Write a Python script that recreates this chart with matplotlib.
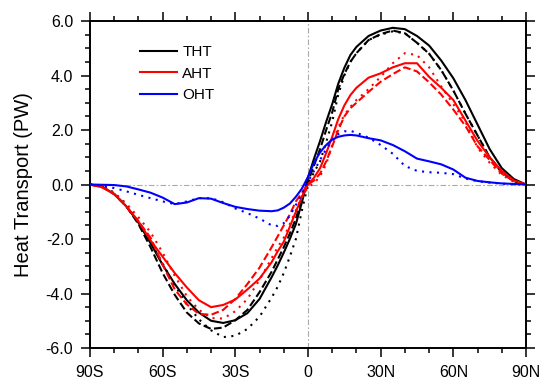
import matplotlib
matplotlib.use("Agg")
import matplotlib.pyplot as plt
from matplotlib.lines import Line2D
from matplotlib.ticker import MultipleLocator

plt.rcParams.update({
    'font.family': ['Liberation Sans', 'DejaVu Sans'],
    'font.size': 11.5,
})

# latitude grid (deg, negative = south); finer near the equator where curves are steep
lat = ([-90, -85, -80, -75, -70, -65, -60, -55, -50, -45, -40, -35, -30, -25, -20, -15]
       + [-12.5, -10, -7.5, -5, -2.5, 0, 2.5, 5, 7.5, 10, 12.5, 15, 17.5, 20]
       + [25, 30, 35, 40, 45, 50, 55, 60, 65, 70, 75, 80, 85, 90])

# Total heat transport (PW)
tht = ([0, -0.08, -0.35, -0.8, -1.4, -2.15, -2.95, -3.65, -4.25, -4.7, -5.0, -5.08, -4.98, -4.72, -4.2, -3.4]
       + [-2.97, -2.5, -2.0, -1.45, -0.65, 0.25, 0.95, 1.6, 2.3, 2.95, 3.7, 4.28, 4.75, 5.05]
       + [5.45, 5.65, 5.75, 5.7, 5.45, 5.1, 4.55, 3.9, 3.1, 2.2, 1.3, 0.6, 0.2, 0])
tht_dash = ([0, -0.08, -0.35, -0.8, -1.45, -2.3, -3.25, -4.05, -4.7, -5.1, -5.3, -5.25, -4.98, -4.6, -3.95, -3.2]
            + [-2.75, -2.3, -1.8, -1.25, -0.5, 0.1, 0.7, 1.3, 2.0, 2.65, 3.5, 4.05, 4.5, 4.82]
            + [5.3, 5.52, 5.65, 5.55, 5.2, 4.8, 4.2, 3.45, 2.6, 1.8, 1.0, 0.45, 0.12, 0])
tht_dot = ([0, -0.05, -0.3, -0.75, -1.35, -2.1, -2.9, -3.7, -4.4, -4.95, -5.35, -5.6, -5.55, -5.3, -4.85, -4.15]
           + [-3.75, -3.25, -2.65, -2.0, -0.95, 0.0, 0.45, 0.85, 1.55, 2.3, 3.3, 4.0, 4.5, 4.82]
           + [5.3, 5.5, 5.62, 5.55, 5.2, 4.8, 4.2, 3.45, 2.6, 1.8, 1.0, 0.45, 0.12, 0])

# Atmospheric heat transport (PW)
aht = ([0, -0.1, -0.35, -0.8, -1.35, -2.05, -2.65, -3.25, -3.78, -4.25, -4.5, -4.42, -4.22, -3.85, -3.45, -2.85]
       + [-2.45, -2.1, -1.55, -1.0, -0.45, 0.0, 0.25, 0.6, 1.15, 1.75, 2.4, 2.9, 3.28, 3.55]
       + [3.92, 4.08, 4.3, 4.45, 4.45, 3.95, 3.55, 3.1, 2.35, 1.6, 1.0, 0.5, 0.15, 0])
aht_dash = ([0, -0.1, -0.35, -0.8, -1.35, -1.95, -2.94, -3.85, -4.4, -4.75, -4.78, -4.6, -4.2, -3.65, -3.05, -2.3]
            + [-1.9, -1.5, -1.1, -0.62, -0.3, 0.0, 0.15, 0.4, 0.85, 1.4, 2.0, 2.5, 2.8, 3.0]
            + [3.4, 3.77, 4.05, 4.3, 4.15, 3.75, 3.3, 2.75, 2.15, 1.4, 0.9, 0.4, 0.12, 0])
aht_dot = ([0, -0.08, -0.3, -0.7, -1.2, -1.75, -2.5, -3.35, -4.1, -4.6, -4.9, -4.92, -4.65, -4.2, -3.5, -2.7]
           + [-2.3, -1.95, -1.45, -0.95, -0.45, -0.1, 0.05, 0.3, 0.75, 1.45, 2.1, 2.55, 2.85, 3.1]
           + [3.5, 3.95, 4.45, 4.82, 4.75, 4.3, 3.6, 2.95, 2.3, 1.35, 0.8, 0.35, 0.1, 0])

# Ocean heat transport (PW)
oht = ([0, -0.01, -0.02, -0.07, -0.18, -0.3, -0.48, -0.72, -0.66, -0.5, -0.52, -0.68, -0.82, -0.9, -0.96, -0.98]
       + [-0.95, -0.85, -0.7, -0.45, -0.15, 0.28, 0.8, 1.18, 1.45, 1.65, 1.75, 1.8, 1.82, 1.8]
       + [1.7, 1.62, 1.45, 1.22, 0.95, 0.85, 0.74, 0.55, 0.25, 0.13, 0.08, 0.04, 0.02, 0])
oht_dot = ([0, -0.05, -0.13, -0.25, -0.38, -0.5, -0.62, -0.72, -0.62, -0.5, -0.5, -0.65, -0.88, -1.05, -1.25, -1.5]
           + [-1.52, -1.42, -1.15, -0.75, -0.35, 0.1, 0.5, 0.9, 1.3, 1.62, 1.85, 1.95, 1.97, 1.9]
           + [1.72, 1.45, 1.13, 0.68, 0.5, 0.45, 0.43, 0.38, 0.22, 0.12, 0.07, 0.03, 0.01, 0])

xticks = [-90, -60, -30, 0, 30, 60, 90]
xticklabels = ["90S", "60S", "30S", "0", "30N", "60N", "90N"]
yticks = [-6, -4, -2, 0, 2, 4, 6]
yticklabels = ["-6.0", "-4.0", "-2.0", "0.0", "2.0", "4.0", "6.0"]

fig = plt.figure(figsize=(5.44, 3.86), dpi=100)
ax = fig.add_axes([0.1654, 0.0984, 0.8015, 0.8472])

# reference lines
ref = dict(color="#aaaaaa", linewidth=0.8, linestyle=(0, (5, 2, 1.5, 2)), zorder=1)
ax.axhline(0, **ref)
ax.axvline(0, **ref)

dash = (0, (3.7, 1.6))
dot = (0, (1.0, 2.6))
lw = 1.5
series = [
    (tht, "black", "-"), (tht_dash, "black", dash), (tht_dot, "black", dot),
    (aht, "red", "-"), (aht_dash, "red", dash), (aht_dot, "red", dot),
    (oht, "blue", "-"), (oht_dot, "blue", dot),
]
for vals, col, ls in series:
    ax.plot(lat, vals, color=col, linestyle=ls, linewidth=lw, zorder=3)

ax.set_xlim(-90, 90)
ax.set_ylim(-6, 6)
ax.set_xticks(xticks)
ax.set_xticklabels(xticklabels)
ax.set_yticks(yticks)
ax.set_yticklabels(yticklabels)
ax.xaxis.set_minor_locator(MultipleLocator(10))
ax.yaxis.set_minor_locator(MultipleLocator(0.5))
ax.tick_params(which="both", direction="out", top=True, right=True, width=1.1)
ax.tick_params(which="major", length=6.5, pad=5.5)
ax.tick_params(which="minor", length=3.3)
for s in ax.spines.values():
    s.set_linewidth(1.4)

ax.set_ylabel("Heat Transport (PW)", fontsize=14.5, labelpad=9)

handles = [Line2D([0], [0], color=c, linewidth=lw) for c in ["black", "red", "blue"]]
ax.legend(handles, ["THT", "AHT", "OHT"], loc="upper left", bbox_to_anchor=(0.1, 0.945),
          frameon=False, fontsize=11, handlelength=2.45, handletextpad=0.35,
          labelspacing=0.5, borderaxespad=0)

fig.savefig("out.png", dpi=100)
